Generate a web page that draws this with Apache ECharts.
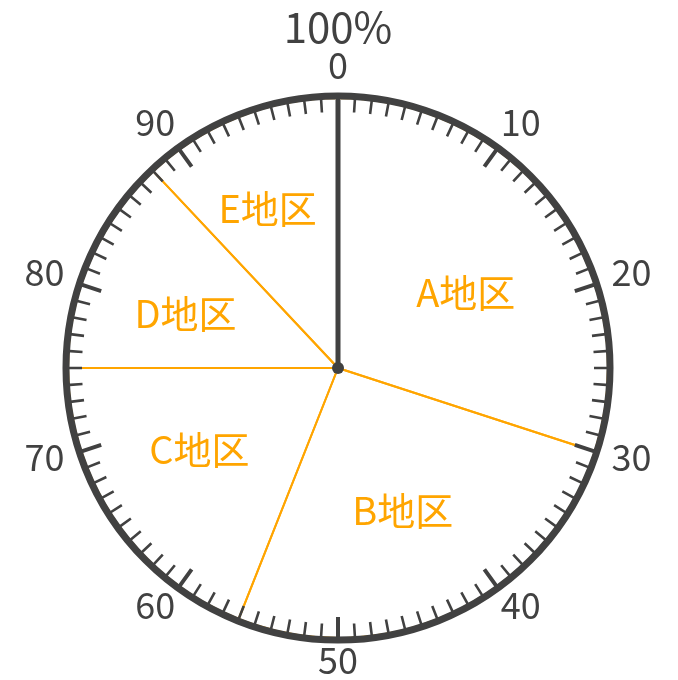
<!DOCTYPE html>
<html>
<head>
<meta charset="utf-8">
<script src="https://cdn.jsdelivr.net/npm/echarts@6/dist/echarts.min.js"></script>
<style>
html,body{margin:0;padding:0;background:#fff;}
#chart{width:678px;height:680px;}
</style>
</head>
<body>
<div id="chart"></div>
<script>
// data
const regions = ['A地区', 'B地区', 'C地区', 'D地区', 'E地区'];
const shares = [30, 26, 19, 13, 12];
const scaleMin = 0;
const scaleMax = 100;
const scaleStep = 10;
const pointerValue = [0];
const topLabel = '100%';

const dark = '#414141';
const orange = '#FFA500';
const fontFam = '"Noto Sans CJK JP", "Noto Sans", sans-serif';
const cx = 338, cy = 368, R = 272;

// label placement styles (per tick value)
const tickLabelStyle = {
  0: { lineHeight: 52 },
  10: { lineHeight: 44 },
  20: { lineHeight: 21, padding: [0, 0, 0, 10] },
  30: { lineHeight: 7, padding: [0, 0, 0, 10] },
  40: { lineHeight: 26 },
  50: { lineHeight: 30 },
  60: { lineHeight: 26 },
  70: { lineHeight: 7, padding: [0, 10, 0, 0] },
  80: { lineHeight: 21, padding: [0, 10, 0, 0] },
  90: { lineHeight: 44 }
};
const regionLabelNudge = [[-5, 21], [-5, -6], [-3, -11], [-2, 11], [-10, -7]];

const rich = { t: { fontSize: 42, color: dark, fontFamily: fontFam, lineHeight: 24 } };
Object.keys(tickLabelStyle).forEach(k => {
  rich['v' + k] = Object.assign({ fontSize: 36, color: dark, fontFamily: fontFam }, tickLabelStyle[k]);
});

const chart = echarts.init(document.getElementById('chart'));
const pieData = regions.map((n, i) => ({ name: n, value: shares[i] }));

chart.setOption({
  animation: false,
  backgroundColor: '#fff',
  polar: { center: [cx, cy], radius: R },
  radiusAxis: { show: false, min: 0, max: 1 },
  angleAxis: {
    type: 'value',
    min: scaleMin, max: scaleMax, interval: scaleStep,
    startAngle: 90, clockwise: true,
    z: 10,
    axisLine: { show: true, lineStyle: { color: dark, width: 7 } },
    axisTick: { show: true, inside: true, length: 23, lineStyle: { color: dark, width: 4 } },
    minorTick: { show: true, splitNumber: 10, length: 16, lineStyle: { color: dark, width: 2.6 } },
    splitLine: { show: false },
    axisLabel: {
      show: true, margin: 5,
      color: dark, fontSize: 36, fontFamily: fontFam,
      formatter: function (v) {
        return v === scaleMin ? '{t|' + topLabel + '}\n{v' + v + '|' + v + '}' : '{v' + v + '|' + v + '}';
      },
      rich: rich
    }
  },
  series: [
    {
      type: 'pie',
      center: [cx, cy], radius: R - 2,
      startAngle: 90, clockwise: true,
      z: 2,
      silent: true,
      label: { show: false }, labelLine: { show: false },
      itemStyle: { color: 'transparent', borderColor: orange, borderWidth: 2 },
      data: pieData
    },
    {
      type: 'pie',
      center: [cx, cy], radius: [52, R - 2],
      startAngle: 90, clockwise: true,
      z: 2,
      silent: true,
      itemStyle: { color: 'transparent', borderWidth: 0 },
      label: {
        show: true, position: 'inside',
        color: orange, fontSize: 38, fontFamily: fontFam,
        formatter: '{b}'
      },
      labelLayout: function (p) {
        const o = regionLabelNudge[p.dataIndex] || [0, 0];
        return { dx: o[0], dy: o[1] };
      },
      labelLine: { show: false },
      data: pieData
    },
    {
      type: 'gauge',
      center: [cx, cy], radius: R,
      startAngle: 90, endAngle: -270,
      min: scaleMin, max: scaleMax,
      z: 12,
      axisLine: { show: false },
      axisTick: { show: false },
      splitLine: { show: false },
      axisLabel: { show: false },
      pointer: { show: true, icon: 'rect', width: 5, length: R - 4, offsetCenter: [0, 0], itemStyle: { color: dark } },
      anchor: { show: true, showAbove: true, size: 12, itemStyle: { color: dark } },
      title: { show: false },
      detail: { show: false },
      data: pointerValue.map(v => ({ value: v }))
    }
  ]
});
</script>
</body>
</html>
